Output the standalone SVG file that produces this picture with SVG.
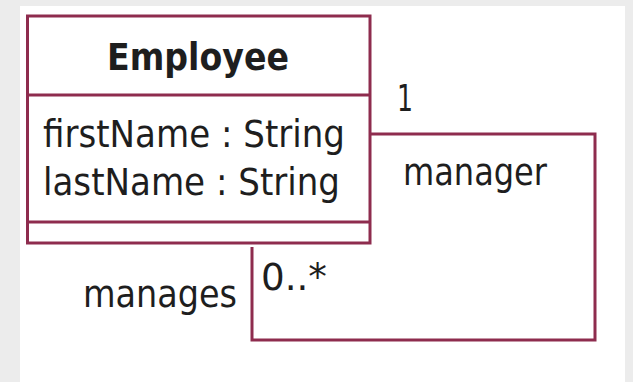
<svg xmlns="http://www.w3.org/2000/svg" width="633" height="382" viewBox="0 0 633 382">
<style>
.t{font-family:"DejaVu Sans","Liberation Sans",sans-serif;font-size:37px;fill:#1e1e1e}
.b{font-weight:bold}
.ln{fill:none;stroke:#8e2c4e;stroke-width:3}
</style>
<rect x="0" y="0" width="633" height="382" fill="#ececec"/>
<rect x="20" y="6" width="605" height="376" fill="#ffffff"/>
<g id="connectors">
<polyline class="ln" points="370,134 595,134 595,340 252,340 252,247"/>
<text class="t" x="397" y="111" textLength="16" lengthAdjust="spacingAndGlyphs">1</text>
<text class="t" x="403" y="185" textLength="144" lengthAdjust="spacingAndGlyphs">manager</text>
<text class="t" x="83" y="307" textLength="154" lengthAdjust="spacingAndGlyphs">manages</text>
<text class="t" x="261" y="290" textLength="66" lengthAdjust="spacingAndGlyphs">0..*</text>
</g>
<g id="Employee">
<rect x="27.5" y="16" width="342.5" height="227" fill="#fffdcc" class="ln"/>
<line class="ln" x1="27.5" y1="95" x2="370" y2="95"/>
<line class="ln" x1="27.5" y1="222" x2="370" y2="222"/>
<text class="t b" x="107" y="70" textLength="182" lengthAdjust="spacingAndGlyphs">Employee</text>
<text class="t" x="43" y="147" textLength="302" lengthAdjust="spacingAndGlyphs">firstName : String</text>
<text class="t" x="43" y="195" textLength="297" lengthAdjust="spacingAndGlyphs">lastName : String</text>
</g>
</svg>
